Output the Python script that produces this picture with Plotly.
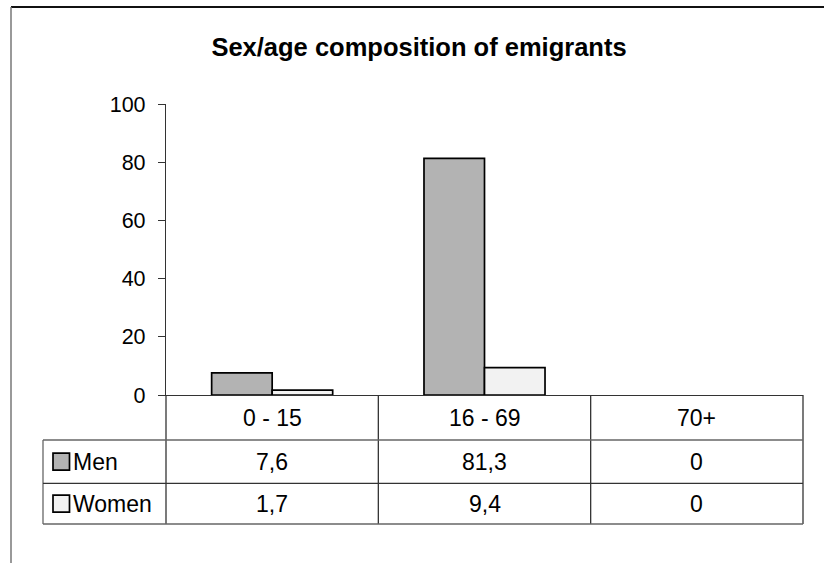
import plotly.graph_objects as go

# Data
age_groups = ["0 - 15", "16 - 69", "70+"]
men = [7.6, 81.3, 0]
women = [1.7, 9.4, 0]
series_names = ["Men", "Women"]
y_ticks = [0, 20, 40, 60, 80, 100]

MEN_COLOR = "#b3b3b3"
WOMEN_COLOR = "#f2f2f2"
FONT = "Liberation Sans, Arial, sans-serif"

W, H = 824, 563
L, R, T, B = 166, 803, 104, 395  # plot area in pixels


def px(xp):
    return (xp - L) / (R - L)


def py(yp):
    return (B - yp) / (B - T)


def fmt(v):
    return f"{v:g}".replace(".", ",")


fig = go.Figure()
for name, vals, color in [(series_names[0], men, MEN_COLOR), (series_names[1], women, WOMEN_COLOR)]:
    fig.add_trace(go.Bar(
        x=age_groups, y=vals, name=name,
        marker=dict(color=color,
                    line=dict(color="#000000", width=[1.7 if v > 0 else 0 for v in vals])),
        showlegend=False, hoverinfo="x+y+name",
    ))

shapes = []
line_dark = dict(color="#333333", width=1.3)
line_grey = dict(color="#666666", width=1.3)

# outer chart frame (top and left edges)
shapes.append(dict(type="line", xref="paper", yref="paper",
                   x0=px(11), x1=px(W + 5), y0=py(7), y1=py(7),
                   line=dict(color="#111111", width=2)))
shapes.append(dict(type="line", xref="paper", yref="paper",
                   x0=px(11), x1=px(11), y0=py(7), y1=py(H + 5),
                   line=dict(color="#777777", width=1.5)))

# data table grid
row_edges = [395, 440, 483.3, 524]
n = len(age_groups)
for k in range(n + 1):
    shapes.append(dict(type="line", xref="paper", yref="paper",
                       x0=k / n, x1=k / n, y0=py(row_edges[0]), y1=py(row_edges[-1]),
                       line=line_dark))
# legend column left edge
shapes.append(dict(type="line", xref="paper", yref="paper",
                   x0=px(43), x1=px(43), y0=py(row_edges[1]), y1=py(row_edges[-1]),
                   line=line_grey))
for i, ye in enumerate(row_edges[1:]):
    shapes.append(dict(type="line", xref="paper", yref="paper",
                       x0=px(43), x1=1, y0=py(ye), y1=py(ye),
                       line=line_grey if i != 1 else line_dark))

annotations = []
row_centers = [417.5, 461.7, 503.7]
cell_font = dict(family=FONT, size=23, color="#000000")
for i, g in enumerate(age_groups):
    annotations.append(dict(x=i, xref="x", y=py(row_centers[0]), yref="paper",
                            text=g, showarrow=False, xanchor="center", yanchor="middle",
                            font=cell_font))
for r, (name, vals, color) in enumerate([(series_names[0], men, MEN_COLOR),
                                         (series_names[1], women, WOMEN_COLOR)]):
    yc = row_centers[r + 1]
    for i, v in enumerate(vals):
        annotations.append(dict(x=i, xref="x", y=py(yc), yref="paper",
                                text=fmt(v), showarrow=False,
                                xanchor="center", yanchor="middle", font=cell_font))
    # legend key
    shapes.append(dict(type="rect", xref="paper", yref="paper",
                       x0=px(53), x1=px(69.5), y0=py(yc - 8.5), y1=py(yc + 8.5),
                       fillcolor=color, line=dict(color="#000000", width=1.7)))
    annotations.append(dict(x=px(70.5), xref="paper", y=py(yc), yref="paper",
                            text=name, showarrow=False, xanchor="left", yanchor="middle",
                            font=cell_font))

fig.update_layout(
    width=W, height=H,
    margin=dict(l=L, r=W - R, t=T, b=H - B, pad=0),
    paper_bgcolor="#ffffff", plot_bgcolor="#ffffff",
    barmode="group", bargap=0.43, bargroupgap=0,
    title=dict(text="<b>Sex/age composition of emigrants</b>",
               x=419 / W, xref="container", xanchor="center",
               y=1 - 47 / H, yref="container", yanchor="middle",
               font=dict(family=FONT, size=25.5, color="#000000")),
    xaxis=dict(range=[-0.5, 2.5], showticklabels=False, ticks="",
               showline=True, linecolor="#333333", linewidth=1.3,
               showgrid=False, zeroline=False, fixedrange=True),
    yaxis=dict(range=[0, 100], tickvals=y_ticks, ticks="outside", ticklen=7,
               tickcolor="#333333", tickwidth=1.3,
               showline=True, linecolor="#333333", linewidth=1.3,
               showgrid=False, zeroline=False, ticklabelstandoff=8,
               tickfont=dict(family=FONT, size=21.5, color="#000000")),
    shapes=shapes,
    annotations=annotations,
)

fig.write_html("out.html")
